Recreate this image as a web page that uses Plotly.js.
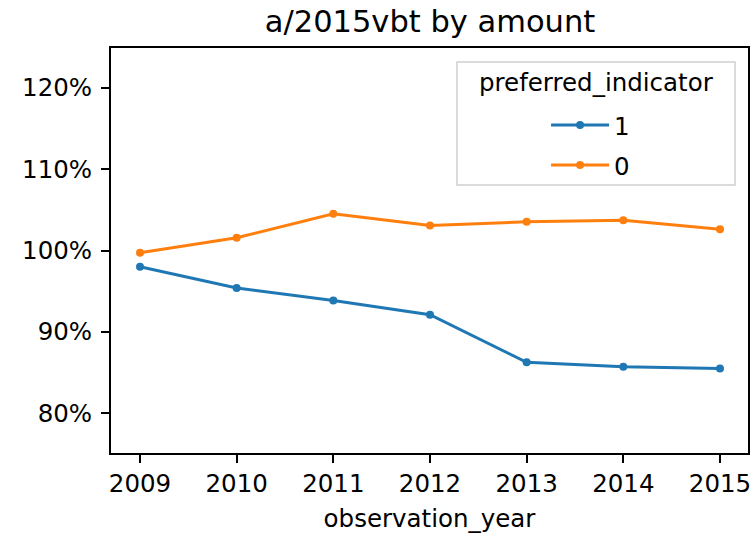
<!DOCTYPE html>
<html>
<head>
<meta charset="utf-8">
<script src="https://cdn.plot.ly/plotly-3.0.1.min.js"></script>
<style>html,body{margin:0;padding:0;background:#fff;}#chart{width:756px;height:536px;}</style>
</head>
<body>
<div id="chart"></div>
<script>
const years = [2009, 2010, 2011, 2012, 2013, 2014, 2015];
const pref1 = [0.980, 0.954, 0.9385, 0.921, 0.8626, 0.857, 0.855];
const pref0 = [0.9972, 1.0156, 1.0451, 1.0308, 1.0353, 1.0373, 1.0262];
const seriesNames = ['1', '0'];
const yTicks = [0.8, 0.9, 1.0, 1.1, 1.2];

const font = 'DejaVu Sans, Liberation Sans, sans-serif';

const traces = [
  {x: years, y: pref1, name: seriesNames[0], mode: 'lines+markers', legendgroup: 'a',
   line: {color: '#1f77b4', width: 3}, marker: {color: '#1f77b4', size: 8}},
  {x: years, y: pref0, name: seriesNames[1], mode: 'lines+markers', legendgroup: 'b',
   line: {color: '#ff7f0e', width: 3}, marker: {color: '#ff7f0e', size: 8}}
];

const layout = {
  width: 756, height: 536,
  margin: {l: 111, r: 8, t: 48, b: 83},
  paper_bgcolor: '#ffffff', plot_bgcolor: '#ffffff',
  font: {family: font, color: '#000', size: 24},
  title: {text: 'a/2015vbt by amount', font: {family: font, size: 30.5, color: '#000'},
          x: 0.5688, xanchor: 'center', y: 1 - 21/536, yanchor: 'middle', yref: 'container'},
  xaxis: {
    range: [2008.7, 2015.29], tickmode: 'array', tickvals: years, ticktext: years.map(String),
    showgrid: false, zeroline: false, showline: true, linecolor: '#000', linewidth: 2, mirror: true,
    ticks: 'outside', ticklen: 8, tickwidth: 2, tickcolor: '#000',
    tickfont: {family: font, size: 24.5, color: '#000'},
    title: {text: 'observation_year', font: {family: font, size: 24.5, color: '#000'}, standoff: 12}
  },
  yaxis: {
    range: [0.751, 1.249], tickmode: 'array', tickvals: yTicks, tickformat: '.0%',
    showgrid: false, zeroline: false, showline: true, linecolor: '#000', linewidth: 2, mirror: true,
    ticks: 'outside', ticklen: 8, tickwidth: 2, tickcolor: '#000', ticklabelstandoff: 4,
    tickfont: {family: font, size: 24.5, color: '#000'}
  },
  showlegend: true,
  legend: {
    x: 0.683, xanchor: 'left', y: 0.865, yanchor: 'top',
    bgcolor: 'rgba(0,0,0,0)', borderwidth: 0,
    font: {family: font, size: 24.5, color: '#000'},
    traceorder: 'grouped', tracegroupgap: 5, itemwidth: 58
  },
  shapes: [{
    type: 'rect', xref: 'paper', yref: 'paper',
    x0: (457 - 111) / 637, x1: (735 - 111) / 637,
    y0: 1 - (185 - 48) / 405, y1: 1 - (62 - 48) / 405,
    line: {color: '#d0d0d0', width: 1.5}, fillcolor: 'rgba(255,255,255,0.8)', layer: 'below'
  }],
  annotations: [{
    text: 'preferred_indicator', xref: 'paper', yref: 'paper',
    x: (596 - 111) / 637, y: 1 - (83 - 48) / 405, xanchor: 'center', yanchor: 'middle',
    showarrow: false, font: {family: font, size: 24.5, color: '#000'}
  }]
};

Plotly.newPlot('chart', traces, layout, {displayModeBar: false, staticPlot: true});
</script>
</body>
</html>
